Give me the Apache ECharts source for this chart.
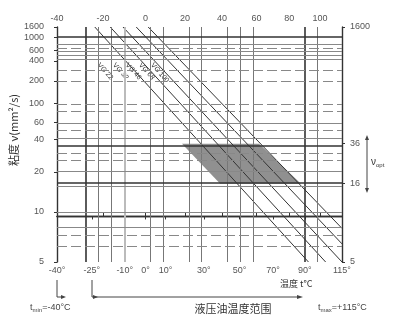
<!DOCTYPE html>
<html><head><meta charset="utf-8">
<script src="https://cdn.jsdelivr.net/npm/echarts@6/dist/echarts.min.js"></script>
<style>html,body{margin:0;padding:0;background:#fff}#c{width:393px;height:320px}</style>
</head><body><div id="c"></div>
<script>
// ---- data ----
const grades = ['VG 22', 'VG 32', 'VG 46', 'VG 68', 'VG 100'];
const lineStartT = [-23.7, -16.7, -10.8, -4.5, 1.3];   // °C where each grade meets the top (1600 mm²/s)
const lineStartNu = [1600, 1600, 1600, 1600, 1600];
const lineEndT = [92.4, 103.8, 115, 115, 115];           // °C where each grade leaves the chart
const lineEndNu = [5, 5, 5, 6.3, 7.8];
const bandT = [18.4, 61.5, 87.5, 39.0];                  // optimum band corners
const bandNu = [36, 36, 16, 16];
const bottomTicks = [-40, -25, -10, 0, 10, 30, 50, 70, 90, 115];
const topTicks = [-40, -20, 0, 20, 40, 60, 80, 100];
const leftTicks = [1600, 1000, 600, 400, 200, 100, 60, 40, 20, 10, 5];
const rightTicks = [1600, 36, 16, 5];
const vThick = [-25, 90];
const vThin = [-20, -15, 0, 10, 20, 30, 40, 50, 60, 100];
const vLight = [-10];
const hThick = [1000, 36, 16];
const hThin = [800, 600, 500, 400, 60, 40, 20, 15, 10, 8];
const hDashed = [700, 300, 200, 100, 80, 50, 30, 25, 7, 6];

// ---- scale transforms (log temperature in K, Walther viscosity) ----
const fx = t => Math.log10(t + 273.15);
const fy = v => Math.log10(Math.log10(v + 0.7));
const invX = x => Math.round(Math.pow(10, x) - 273.15);
const invY = y => Math.round(Math.pow(10, Math.pow(10, y)) - 0.7);

const FONT = 'Liberation Sans, Arial, sans-serif';
const CJK = 'Noto Sans CJK SC';
const lineCol = '#333';

const marks = [];
vThick.forEach(t => marks.push({xAxis: fx(t), lineStyle: {color: '#333', width: 1.6, type: 'solid'}}));
vThin.forEach(t => marks.push({xAxis: fx(t), lineStyle: {color: '#777', width: 1, type: 'solid'}}));
vLight.forEach(t => marks.push({xAxis: fx(t), lineStyle: {color: '#bbb', width: 2, type: 'solid'}}));
hThick.forEach(v => marks.push({yAxis: fy(v), lineStyle: {color: '#333', width: 1.6, type: 'solid'}}));
hThin.forEach(v => marks.push({yAxis: fy(v), lineStyle: {color: '#888', width: 1, type: 'solid'}}));
hDashed.forEach(v => marks.push({yAxis: fy(v), lineStyle: {color: '#888', width: 1, type: [10, 4]}}));

const series = [];
series.push({
  type: 'line', data: [], silent: true, animation: false,
  markLine: {symbol: ['none', 'none'], silent: true, animation: false, label: {show: false}, data: marks}
});
series.push({
  type: 'custom', animation: false, silent: true,
  data: [0],
  renderItem: (params, api) => {
    const pts = bandT.map((t, i) => api.coord([fx(t), fy(bandNu[i])]));
    return {type: 'polygon', shape: {points: pts}, style: {fill: 'rgba(70,70,70,0.6)'}};
  },
  z: 1
});
grades.forEach((g, i) => {
  series.push({
    type: 'line', name: g, symbol: 'circle', symbolSize: 0.1, showSymbol: true,
    animation: false, silent: true, z: 3,
    itemStyle: {color: lineCol},
    lineStyle: {color: lineCol, width: 1},
    data: [
      {value: [fx(lineStartT[i]), fy(lineStartNu[i])],
       label: {show: true, formatter: g, position: 'right', distance: 0, rotate: -48,
               offset: [30, 22], fontSize: 7, color: '#333', fontFamily: FONT}},
      {value: [fx(lineEndT[i]), fy(lineEndNu[i])], label: {show: false}}
    ]
  });
});

const chart = echarts.init(document.getElementById('c'), null, {renderer: 'canvas'});
chart.setOption({
  backgroundColor: '#fff',
  animation: false,
  grid: {left: 57, right: 51, top: 27, bottom: 58},
  xAxis: [
    {type: 'value', position: 'bottom', min: fx(-40), max: fx(115),
     axisLine: {show: true, lineStyle: {color: '#333', width: 1.4}},
     axisTick: {show: true, customValues: bottomTicks.map(fx), length: 3, lineStyle: {color: '#333'}},
     axisLabel: {customValues: bottomTicks.map(fx), formatter: v => invX(v) + '°', fontSize: 9, color: '#555', margin: 4, fontFamily: FONT},
     splitLine: {show: false}},
    {type: 'value', position: 'top', min: fx(-40), max: fx(115),
     axisLine: {show: true, lineStyle: {color: '#333', width: 1.4}},
     axisTick: {show: true, customValues: topTicks.map(fx), length: 4, lineStyle: {color: '#333'}},
     axisLabel: {customValues: topTicks.map(fx), formatter: v => String(invX(v)), fontSize: 9, color: '#555', margin: 4, fontFamily: FONT},
     splitLine: {show: false}}
  ],
  yAxis: [
    {type: 'value', position: 'left', min: fy(5), max: fy(1600),
     axisLine: {show: true, lineStyle: {color: '#333', width: 1.4}},
     axisTick: {show: true, customValues: leftTicks.map(fy), length: 3, lineStyle: {color: '#333'}},
     axisLabel: {customValues: leftTicks.map(fy), formatter: v => String(invY(v)), fontSize: 9, color: '#555', margin: 13, fontFamily: FONT},
     splitLine: {show: false}},
    {type: 'value', position: 'right', min: fy(5), max: fy(1600),
     axisLine: {show: true, lineStyle: {color: '#333', width: 1.4}},
     axisTick: {show: true, customValues: rightTicks.map(fy), length: 3, lineStyle: {color: '#333'}},
     axisLabel: {customValues: rightTicks.map(fy), formatter: v => String(invY(v)), fontSize: 9, color: '#555', margin: 8, fontFamily: FONT},
     splitLine: {show: false}}
  ],
  series: series,
  graphic: [
    {type: 'text', x: 14, y: 130, rotation: Math.PI / 2, style: {text: '粘度 ν(mm²/s)', fontSize: 11, fill: '#333', fontFamily: CJK, align: 'center', verticalAlign: 'middle'}},
    {type: 'polyline', shape: {points: [[57, 280], [57, 297], [63, 297]]}, style: {stroke: '#444', lineWidth: 1, fill: null}},
    {type: 'polygon', shape: {points: [[66, 297], [61, 295], [61, 299]]}, style: {fill: '#444'}},
    {type: 'polyline', shape: {points: [[92, 280], [92, 297], [300, 297]]}, style: {stroke: '#444', lineWidth: 1, fill: null}},
    {type: 'polygon', shape: {points: [[303, 297], [297, 295], [297, 299]]}, style: {fill: '#444'}},
    {type: 'polygon', shape: {points: [[98, 297], [93, 295], [93, 299]]}, style: {fill: '#444'}},
    {type: 'text', x: 30, y: 302, style: {text: 't{s|min}=-40°C', fontSize: 9, fill: '#444', fontFamily: FONT, rich: {s: {fontSize: 6, fill: '#444', padding: [5, 0, 0, 0]}}}},
    {type: 'text', x: 233, y: 303, style: {text: '液压油温度范围', fontSize: 11, fill: '#333', fontFamily: CJK, align: 'center'}},
    {type: 'text', x: 280, y: 279, style: {text: '温度 t°C', fontSize: 9, fill: '#333', fontFamily: CJK}},
    {type: 'text', x: 318, y: 302, style: {text: 't{s|max}=+115°C', fontSize: 9, fill: '#444', fontFamily: FONT, rich: {s: {fontSize: 6, fill: '#444', padding: [5, 0, 0, 0]}}}},
    {type: 'line', shape: {x1: 367, y1: 138, x2: 367, y2: 190}, style: {stroke: '#444', lineWidth: 1}},
    {type: 'polygon', shape: {points: [[367, 135], [365, 140], [369, 140]]}, style: {fill: '#444'}},
    {type: 'polygon', shape: {points: [[367, 193], [365, 188], [369, 188]]}, style: {fill: '#444'}},
    {type: 'text', x: 371, y: 157, style: {text: 'ν{s|opt}', fontSize: 10, fill: '#333', fontFamily: FONT, rich: {s: {fontSize: 6, fill: '#333', padding: [5, 0, 0, 0]}}}}
  ]
});
</script>
</body></html>
